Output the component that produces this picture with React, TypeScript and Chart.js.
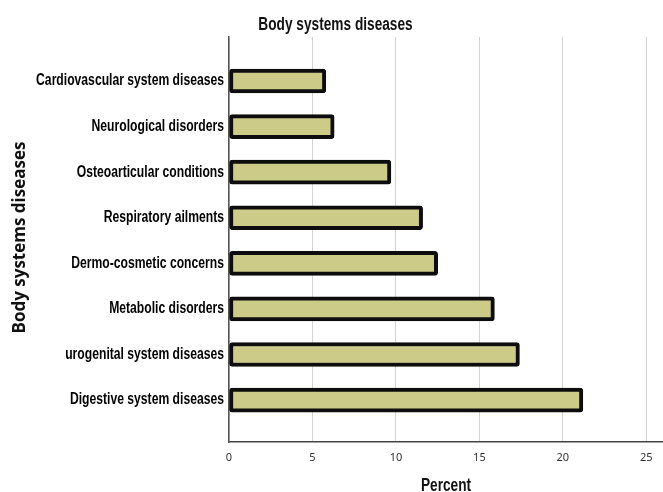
import { useEffect, useRef } from "react";
import { Chart, registerables } from "chart.js";

Chart.register(...registerables);

const categories = [
  "Cardiovascular system diseases",
  "Neurological disorders",
  "Osteoarticular conditions",
  "Respiratory ailments",
  "Dermo-cosmetic concerns",
  "Metabolic disorders",
  "urogenital system diseases",
  "Digestive system diseases",
];

const percentValues = [5.8, 6.3, 9.7, 11.6, 12.5, 15.9, 17.4, 21.2];

const xTickValues = [0, 5, 10, 15, 20, 25];

const chartTitle = "Body systems diseases";
const xAxisTitle = "Percent";
const yAxisTitle = "Body systems diseases";

const condensedFamily = "'Liberation Sans', Arial, sans-serif";
const squeeze = 0.76;

// Draws a horizontally condensed string (the bold narrow look of the labels).
function drawCondensed(
  ctx: CanvasRenderingContext2D,
  text: string,
  x: number,
  y: number,
  align: CanvasTextAlign,
  font: string
) {
  ctx.save();
  ctx.font = font;
  ctx.textAlign = align;
  ctx.translate(x, y);
  ctx.scale(squeeze, 1);
  ctx.fillText(text, 0, 0);
  ctx.restore();
}

const textPlugin = {
  id: "condensedText",
  afterDraw(chart: any) {
    const { ctx, chartArea, scales } = chart;
    const yScale = scales.y;
    ctx.save();
    ctx.fillStyle = "#000";
    ctx.textBaseline = "middle";

    // category labels
    categories.forEach((label, i) => {
      const py = yScale.getPixelForValue(i);
      drawCondensed(ctx, label, chartArea.left - 5, py, "right", `bold 16px ${condensedFamily}`);
    });

    // chart title
    ctx.textBaseline = "alphabetic";
    ctx.fillStyle = "#111";
    drawCondensed(ctx, chartTitle, 335.5, 30, "center", `bold 18px ${condensedFamily}`);

    // x axis title
    drawCondensed(
      ctx,
      xAxisTitle,
      (chartArea.left + chartArea.right) / 2,
      chart.height - 1,
      "center",
      `bold 18px ${condensedFamily}`
    );

    // y axis title
    ctx.save();
    ctx.translate(20, (chartArea.top + chartArea.bottom) / 2 - 2);
    ctx.rotate(-Math.PI / 2);
    ctx.textAlign = "center";
    ctx.textBaseline = "middle";
    ctx.font = "bold 17px 'Open Sans', 'DejaVu Sans', sans-serif";
    ctx.fillText(yAxisTitle, 0, 0);
    ctx.restore();

    ctx.restore();
  },
};

export default function App() {
  const canvasRef = useRef<HTMLCanvasElement | null>(null);

  useEffect(() => {
    document.body.style.margin = "0";
    const canvas = canvasRef.current;
    if (!canvas) return;

    const chart = new Chart(canvas, {
      type: "bar",
      data: {
        datasets: [
          {
            data: percentValues.map((v, i) => ({ x: v, y: i })),
            backgroundColor: "#cccc88",
            borderColor: "#0d0d0d",
            borderWidth: 4,
            borderRadius: 3,
            borderSkipped: false,
            barThickness: 24,
          },
        ],
      },
      options: {
        indexAxis: "y",
        animation: false,
        responsive: false,
        maintainAspectRatio: false,
        layout: { padding: { left: 0, right: 0, top: 37, bottom: 0 } },
        plugins: {
          legend: { display: false },
          tooltip: { enabled: false },
          title: { display: false },
        },
        scales: {
          x: {
            type: "linear",
            min: 0,
            max: 26,
            afterBuildTicks: (scale: any) => {
              scale.ticks = xTickValues.map((v) => ({ value: v }));
            },
            afterFit: (scale: any) => {
              scale.height = 50;
            },
            grid: {
              color: (c: any) => (xTickValues.includes(c.tick?.value) ? "#d4d4d4" : "rgba(0,0,0,0)"),
              lineWidth: 1,
              drawTicks: false,
            },
            border: { display: true, color: "#444", width: 1.5 },
            ticks: {
              color: "#333",
              padding: 9,
              font: { family: "'Noto Sans', 'DejaVu Sans', sans-serif", size: 11 },
              callback: (v: any) => String(v),
            },
          },
          y: {
            type: "linear",
            reverse: true,
            offset: false,
            min: -0.965,
            max: 7.92,
            afterBuildTicks: (scale: any) => {
              scale.ticks = categories.map((_, i) => ({ value: i }));
            },
            afterFit: (scale: any) => {
              scale.width = 229;
            },
            grid: { display: false, drawTicks: false },
            border: { display: true, color: "#555", width: 1.5 },
            ticks: {
              display: true,
              color: "rgba(0,0,0,0)",
              callback: () => "",
            },
          },
        },
      },
      plugins: [textPlugin],
    });

    return () => chart.destroy();
  }, []);

  return (
    <div style={{ position: "fixed", left: 0, top: 0, width: 663, height: 492, background: "#fff" }}>
      <canvas ref={canvasRef} width={663} height={492} />
    </div>
  );
}
